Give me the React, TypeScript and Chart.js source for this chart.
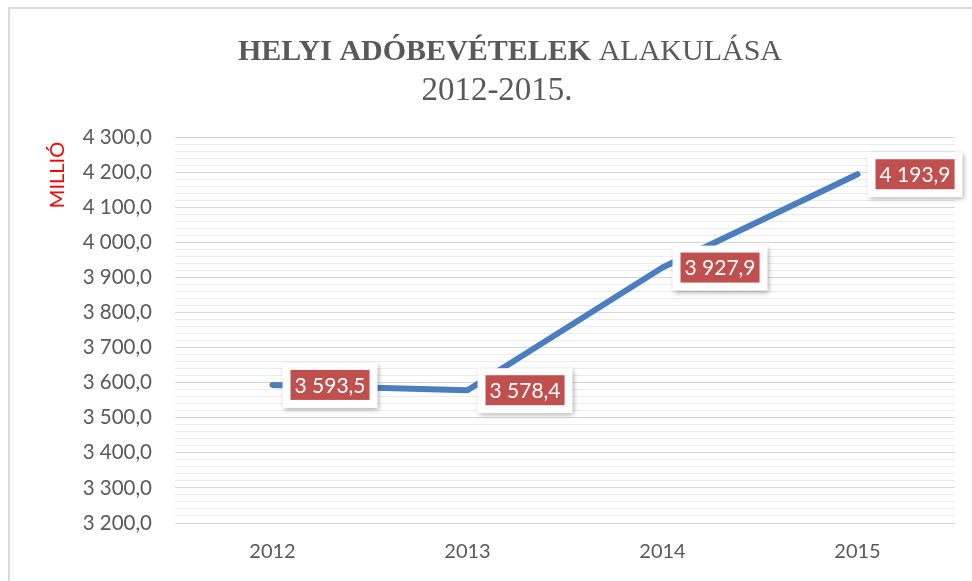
import React, { useEffect, useRef } from 'react';
import { Chart, registerables } from 'chart.js';

Chart.register(...registerables);

const categories = ['2012', '2013', '2014', '2015'];
const values = [3593.5, 3578.4, 3927.9, 4193.9];
const titleBold = 'HELYI ADÓBEVÉTELEK ';
const titleNormal = 'ALAKULÁSA';
const titleLine2 = '2012-2015.';
const yAxisTitle = 'MILLIÓ';
const yMin = 3200;
const yMax = 4300;
const yMajorStep = 100;
const yMinorStep = 20;

function huFormat(v: number, decimals = 1): string {
  const fixed = Math.abs(v).toFixed(decimals);
  const [intPart, dec] = fixed.split('.');
  const grouped = intPart.replace(/\B(?=(\d{3})+(?!\d))/g, ' ');
  return (v < 0 ? '-' : '') + grouped + (dec ? ',' + dec : '');
}

const overlayPlugin = {
  id: 'overlay',
  afterDatasetsDraw(chart: any) {
    const ctx = chart.ctx as CanvasRenderingContext2D;
    const meta = chart.getDatasetMeta(0);
    ctx.save();
    ctx.font = '21px Lato';
    meta.data.forEach((pt: any, i: number) => {
      const text = huFormat(values[i]);
      const tw = ctx.measureText(text).width;
      const redW = tw + 8;
      const redH = 30;
      const ww = redW + 16;
      const wh = redH + 15;
      const wx = pt.x + 10;
      const wy = pt.y - 22;
      ctx.save();
      ctx.shadowColor = 'rgba(0,0,0,0.35)';
      ctx.shadowBlur = 5;
      ctx.shadowOffsetX = 1;
      ctx.shadowOffsetY = 2;
      ctx.fillStyle = '#ffffff';
      ctx.fillRect(wx, wy, ww, wh);
      ctx.restore();
      ctx.fillStyle = '#C0504D';
      ctx.fillRect(wx + 8, wy + 7, redW, redH);
      ctx.fillStyle = '#ffffff';
      ctx.textAlign = 'center';
      ctx.textBaseline = 'middle';
      ctx.fillText(text, wx + 8 + redW / 2, wy + 7 + redH / 2 + 1);
    });
    ctx.restore();
  },
  afterDraw(chart: any) {
    const ctx = chart.ctx as CanvasRenderingContext2D;
    ctx.save();
    const cx = 510;
    ctx.fillStyle = '#595959';
    ctx.textBaseline = 'alphabetic';
    ctx.textAlign = 'left';
    const boldFont = 'bold 30px "Liberation Serif"';
    const normFont = '30px "Liberation Serif"';
    ctx.font = boldFont;
    const wb = ctx.measureText(titleBold).width;
    ctx.font = normFont;
    const wn = ctx.measureText(titleNormal).width;
    const x0 = cx - (wb + wn) / 2;
    ctx.font = boldFont;
    ctx.fillText(titleBold, x0, 60);
    ctx.font = normFont;
    ctx.fillText(titleNormal, x0 + wb, 60);
    ctx.textAlign = 'center';
    ctx.font = '33px "Liberation Serif"';
    ctx.fillText(titleLine2, 497, 100);

    ctx.translate(58, 175);
    ctx.rotate(-Math.PI / 2);
    ctx.fillStyle = '#FF0000';
    ctx.font = '20px Lato';
    ctx.textAlign = 'center';
    ctx.textBaseline = 'middle';
    ctx.fillText(yAxisTitle, 0, 0);
    ctx.restore();
  },
};

export default function App() {
  const ref = useRef<HTMLCanvasElement>(null);
  useEffect(() => {
    if (!ref.current) return;
    const chart = new Chart(ref.current, {
      type: 'line',
      data: {
        labels: categories,
        datasets: [
          {
            data: values,
            borderColor: '#4A7EBE',
            backgroundColor: '#4A7EBE',
            borderWidth: 6,
            borderCapStyle: 'round',
            borderJoinStyle: 'round',
            pointRadius: 0,
            tension: 0,
            fill: false,
          },
        ],
      },
      options: {
        responsive: false,
        animation: false,
        layout: { padding: { top: 137, right: 17, left: 0, bottom: 0 } },
        plugins: {
          legend: { display: false },
          tooltip: { enabled: false },
          title: { display: false },
        },
        scales: {
          x: {
            type: 'category',
            offset: true,
            grid: { display: false, drawTicks: false },
            border: { display: false },
            ticks: {
              color: '#595959',
              font: { family: 'Lato', size: 20 },
              padding: 17,
              maxRotation: 0,
            },
            afterFit: (s: any) => {
              s.height = 58;
            },
          },
          y: {
            min: yMin,
            max: yMax,
            grid: {
              color: (c: any) =>
                c.tick && Math.round(c.tick.value) % yMajorStep === 0 ? '#D6D6D6' : '#EBEBEB',
              drawTicks: false,
              lineWidth: 1,
            },
            border: { display: false },
            ticks: {
              stepSize: yMinorStep,
              autoSkip: false,
              callback: (v: any) => (Math.round(v) % yMajorStep === 0 ? huFormat(Number(v)) : ''),
              color: '#595959',
              font: { family: 'Lato', size: 20.5 },
              padding: 23,
            },
            afterFit: (s: any) => {
              s.width = 175;
            },
          },
        },
      } as any,
      plugins: [overlayPlugin],
    });
    return () => chart.destroy();
  }, []);

  return (
    <div style={{ position: 'fixed', left: 0, top: 0, width: 972, height: 581, background: '#fff', overflow: 'hidden' }}>
      <div
        style={{
          position: 'absolute',
          left: 8,
          top: 7,
          width: 980,
          height: 590,
          borderLeft: '2px solid #D9D9D9',
          borderTop: '2px solid #D9D9D9',
        }}
      />
      <canvas ref={ref} width={972} height={581} style={{ position: 'absolute', left: 0, top: 0, width: 972, height: 581 }} />
    </div>
  );
}
